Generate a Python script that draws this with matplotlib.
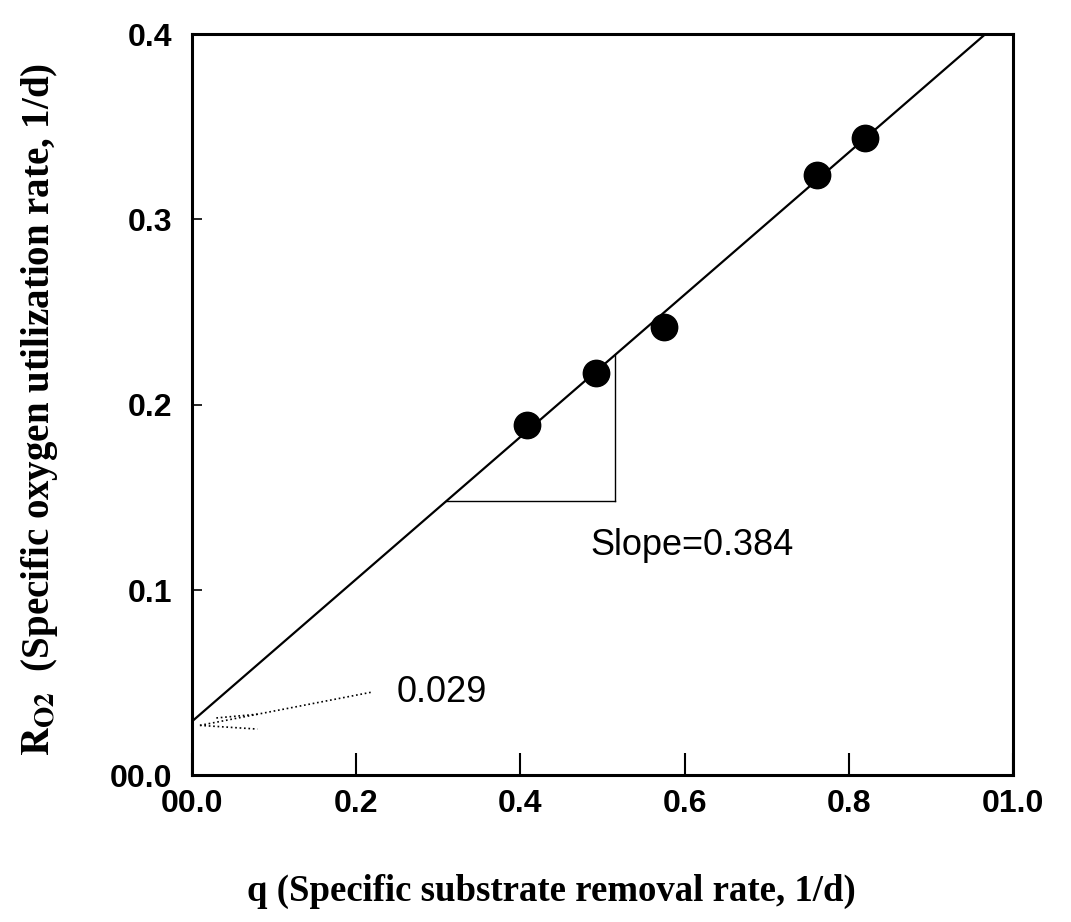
import numpy as np
import matplotlib
matplotlib.use("Agg")
import matplotlib.pyplot as plt

plt.rcParams['mathtext.fontset'] = 'stix'

# measured points
q = [0.408, 0.492, 0.575, 0.761, 0.820]
r_o2 = [0.189, 0.217, 0.242, 0.324, 0.344]

# fitted line
slope = 0.384
intercept = 0.029

x_ticks = [0.0, 0.2, 0.4, 0.6, 0.8, 1.0]
x_ticklabels = ['00.0', '0.2', '0.4', '0.6', '0.8', '01.0']
y_ticks = [0.0, 0.1, 0.2, 0.3, 0.4]
y_ticklabels = ['00.0', '0.1', '0.2', '0.3', '0.4']

fig = plt.figure(figsize=(10.71, 9.22), dpi=100)
ax = fig.add_axes([0.179, 0.159, 0.767, 0.804])

# regression line, stops where it hits the top of the box
x_end = (0.4 - intercept) / slope
xs = np.array([0.0, x_end])
ax.plot(xs, intercept + slope * xs, color='black', linewidth=1.6)

ax.plot(q, r_o2, 'o', color='black', markersize=19)

# slope triangle
tri_y = 0.148
tri_x0 = (tri_y - intercept) / slope
tri_x1 = 0.515
ax.plot([tri_x0, tri_x1], [tri_y, tri_y], color='black', linewidth=1.0)
ax.plot([tri_x1, tri_x1], [tri_y, intercept + slope * tri_x1], color='black', linewidth=1.0)
ax.text(0.485, 0.124, 'Slope=0.384', fontsize=26, family='Liberation Sans',
        va='center', ha='left')

# intercept pointer
ax.plot([0.01, 0.22], [0.027, 0.045], color='black', linestyle=':', linewidth=1.2)
ax.plot([0.01, 0.08], [0.027, 0.025], color='black', linestyle=':', linewidth=1.2)
ax.plot([0.03, 0.08], [0.031, 0.033], color='black', linestyle=':', linewidth=1.2)
ax.text(0.25, 0.045, '0.029', fontsize=26, family='Liberation Sans',
        va='center', ha='left')

ax.set_xlim(0, 1.0)
ax.set_ylim(0, 0.4)
ax.set_xticks(x_ticks)
ax.set_xticklabels(x_ticklabels, fontsize=23, fontweight='bold', family='Liberation Sans')
ax.set_yticks(y_ticks)
ax.set_yticklabels(y_ticklabels, fontsize=23, fontweight='bold', family='Liberation Sans')
ax.tick_params(axis='x', direction='in', length=16, width=1.5, pad=10)
ax.tick_params(axis='y', direction='in', length=7, width=1.2, pad=14)
for s in ax.spines.values():
    s.set_linewidth(2.2)

ax.set_xlabel('q (Specific substrate removal rate, 1/d)', fontsize=26.5,
              family='Liberation Serif', fontweight='bold')
ax.xaxis.set_label_coords(0.438, -0.133)
ax.set_ylabel(r'$\mathbf{R_{O2}}$  (Specific oxygen utilization rate, 1/d)', fontsize=28,
              family='Liberation Serif', fontweight='bold')
ax.yaxis.set_label_coords(-0.16, 0.493)

fig.savefig('out.png', dpi=100)
